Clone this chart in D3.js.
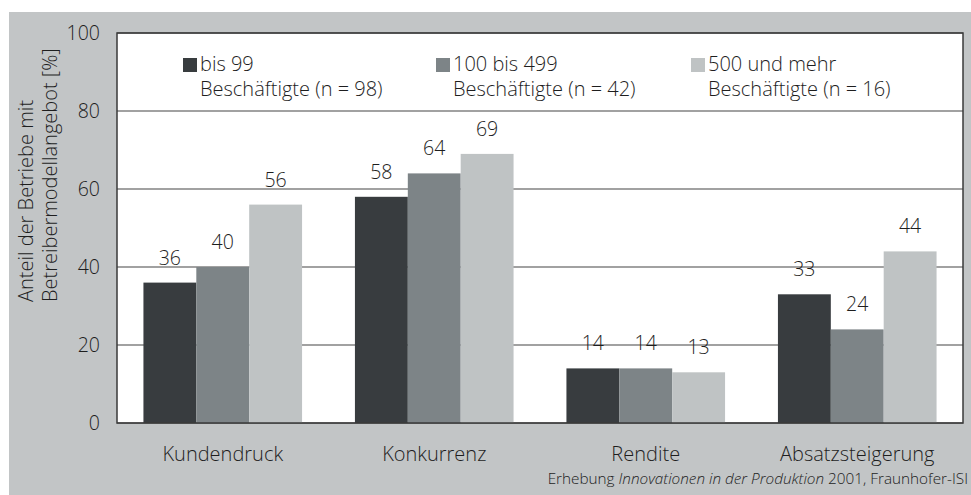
<!DOCTYPE html>
<html><head><meta charset="utf-8">
<script src="https://cdn.jsdelivr.net/npm/d3@7"></script>
<style>
html,body{margin:0;padding:0;background:#fff;}
text{font-family:"Open Sans",sans-serif;font-weight:350;fill:#1e1e1e;}
</style></head>
<body>
<svg id="chart" width="971" height="495"></svg>
<script>
const categories = ["Kundendruck","Konkurrenz","Rendite","Absatzsteigerung"];
const seriesNames = ["bis 99","100 bis 499","500 und mehr"];
const seriesSub = ["Beschäftigte (n = 98)","Beschäftigte (n = 42)","Beschäftigte (n = 16)"];
const smallFirms = [36,58,14,33];
const midFirms = [40,64,14,24];
const largeFirms = [56,69,13,44];
const yTicks = [0,20,40,60,80,100];
const colors = ["#383c3f","#7d8487","#bfc3c4"];

const series = [smallFirms, midFirms, largeFirms];
const svg = d3.select("#chart");
const W = 971, H = 495;
const m = {left:117, right:963, top:33, bottom:423};

svg.append("rect").attr("x",9).attr("y",12).attr("width",W-9).attr("height",H-12).attr("fill","#c2c5c6");
svg.append("rect").attr("x",m.left).attr("y",m.top).attr("width",m.right-m.left).attr("height",m.bottom-m.top).attr("fill","#fff");

const y = d3.scaleLinear().domain([0,100]).range([m.bottom,m.top]);
const x0 = d3.scaleBand().domain(categories).range([m.left,m.right]).paddingInner(0.25).paddingOuter(0.125);
const x1 = d3.scaleBand().domain(d3.range(3)).range([0,x0.bandwidth()]);

// gridlines
svg.append("g").selectAll("line").data(yTicks).join("line")
  .attr("x1",m.left).attr("x2",m.right).attr("y1",d=>y(d)).attr("y2",d=>y(d))
  .attr("stroke","#454545").attr("stroke-width",1.2);

// bars
const groups = svg.append("g").selectAll("g").data(categories).join("g")
  .attr("transform",c=>`translate(${x0(c)},0)`);
groups.selectAll("rect").data((c,i)=>series.map((s,j)=>({j,v:s[i]}))).join("rect")
  .attr("x",d=>x1(d.j)).attr("width",x1.bandwidth())
  .attr("y",d=>y(d.v)).attr("height",d=>y(0)-y(d.v))
  .attr("fill",d=>colors[d.j]);
groups.selectAll("text").data((c,i)=>series.map((s,j)=>({j,v:s[i]}))).join("text")
  .attr("x",d=>x1(d.j)+x1.bandwidth()/2).attr("y",d=>y(d.v)-18)
  .attr("text-anchor","middle").attr("font-size",19.5).text(d=>d.v);

// frame
svg.append("rect").attr("x",m.left).attr("y",m.top).attr("width",m.right-m.left).attr("height",m.bottom-m.top)
  .attr("fill","none").attr("stroke","#3a3a3a").attr("stroke-width",1.5);

// y axis
const yAxis = d3.axisLeft(y).tickValues(yTicks).tickSize(0).tickPadding(17);
const ya = svg.append("g").attr("transform",`translate(${m.left},0)`).call(yAxis);
ya.select(".domain").remove();
ya.selectAll("text").attr("font-size",19.5).attr("font-family","Open Sans").attr("font-weight",350).attr("fill","#1e1e1e");

// x axis labels
const xAxis = d3.axisBottom(x0).tickSize(0).tickPadding(24);
const xa = svg.append("g").attr("transform",`translate(0,${m.bottom})`).call(xAxis);
xa.select(".domain").remove();
xa.selectAll("text").attr("font-size",20).attr("font-family","Open Sans").attr("font-weight",350).attr("fill","#1e1e1e");

// y title
const yt = svg.append("text").attr("transform","translate(33,302) rotate(-90)").attr("font-size",20);
yt.append("tspan").attr("x",0).attr("y",0).text("Anteil der Betriebe mit");
yt.append("tspan").attr("x",0).attr("y",24).text("Betreibermodellangebot [%]");

// legend
const legX = [183,436,691];
const leg = svg.append("g").selectAll("g").data(seriesNames).join("g")
  .attr("transform",(d,i)=>`translate(${legX[i]},58)`);
leg.append("rect").attr("width",14).attr("height",14).attr("fill",(d,i)=>colors[i]);
leg.append("text").attr("x",17).attr("y",13).attr("font-size",20).text(d=>d);
leg.append("text").attr("x",17).attr("y",38).attr("font-size",20).text((d,i)=>seriesSub[i]);

// footer
const ft = svg.append("text").attr("x",968).attr("y",484).attr("text-anchor","end").attr("font-size",15.3);
ft.append("tspan").text("Erhebung ");
ft.append("tspan").attr("font-style","italic").text("Innovationen in der Produktion");
ft.append("tspan").text(" 2001, Fraunhofer-ISI");
</script>
</body></html>
